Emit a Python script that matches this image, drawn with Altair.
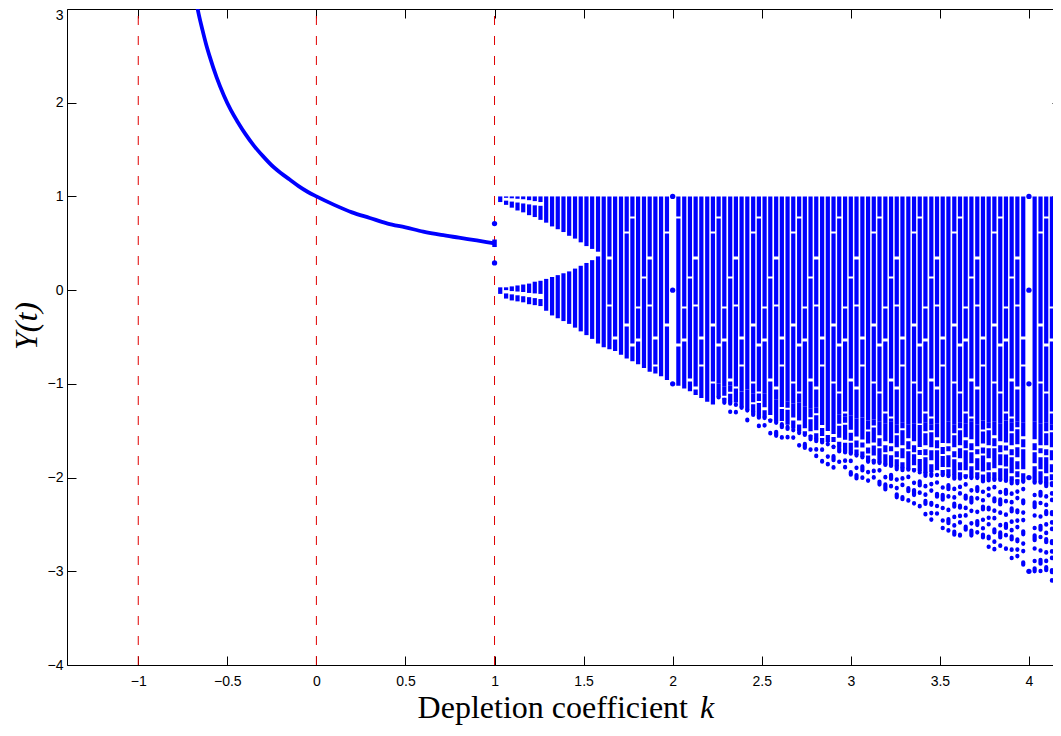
import altair as alt
import pandas as pd

BLUE = "#0000ff"
RED = "#e00000"

# ---------------- data ----------------
# smooth branch  Y(t) for k in (-0.68, 1]
CURVE_K = [-0.68, -0.66, -0.64, -0.62, -0.60, -0.56, -0.52, -0.48, -0.44, -0.40,
           -0.35, -0.30, -0.25, -0.20, -0.15, -0.10, -0.05, 0.00, 0.10, 0.20,
           0.30, 0.40, 0.50, 0.60, 0.70, 0.80, 0.90, 1.00]
CURVE_Y = [3.13, 2.94, 2.78, 2.63, 2.50, 2.27, 2.08, 1.92, 1.79, 1.67,
           1.54, 1.43, 1.33, 1.25, 1.18, 1.11, 1.05, 1.00, 0.91, 0.83,
           0.77, 0.71, 0.67, 0.625, 0.59, 0.56, 0.53, 0.50]

# columns of the chaotic region (k > 1): top is Y = 1
COL_K = [1.032, 1.065, 1.097, 1.129, 1.161, 1.194, 1.226, 1.258, 1.290, 1.323,
         1.355, 1.387, 1.419, 1.452, 1.484, 1.516, 1.548, 1.581, 1.613, 1.645,
         1.677, 1.710, 1.742, 1.774, 1.806, 1.839, 1.871, 1.903, 1.935, 1.968,
         2.032, 2.065, 2.097, 2.129, 2.161, 2.194, 2.226, 2.258, 2.290, 2.323,
         2.355, 2.387, 2.419, 2.452, 2.484, 2.516, 2.548, 2.581, 2.613, 2.645,
         2.677, 2.710, 2.742, 2.774, 2.806, 2.839, 2.871, 2.903, 2.935, 2.968,
         3.000, 3.032, 3.065, 3.097, 3.129, 3.161, 3.194, 3.226, 3.258, 3.290,
         3.323, 3.355, 3.387, 3.419, 3.452, 3.484, 3.516, 3.548, 3.581, 3.613,
         3.645, 3.677, 3.710, 3.742, 3.774, 3.806, 3.839, 3.871, 3.903, 3.935,
         3.968, 4.032, 4.065, 4.097, 4.129, 4.161, 4.194]
COL_TOP = 1.0
# lowest point of each column
COL_LOW = [-0.04, -0.09, -0.11, -0.12, -0.13, -0.15, -0.16, -0.17, -0.22, -0.27,
           -0.30, -0.33, -0.36, -0.40, -0.44, -0.48, -0.52, -0.57, -0.61, -0.63,
           -0.65, -0.69, -0.73, -0.76, -0.79, -0.83, -0.87, -0.89, -0.92, -0.96,
           -1.02, -1.05, -1.08, -1.12, -1.15, -1.19, -1.22, -1.24, -1.27, -1.30,
           -1.33, -1.36, -1.39, -1.42, -1.47, -1.50, -1.53, -1.56, -1.58, -1.62,
           -1.66, -1.70, -1.72, -1.75, -1.79, -1.83, -1.86, -1.90, -1.91, -1.94,
           -1.97, -2.01, -2.04, -2.07, -2.11, -2.14, -2.17, -2.20, -2.23, -2.26,
           -2.30, -2.33, -2.37, -2.42, -2.46, -2.50, -2.54, -2.58, -2.61, -2.62,
           -2.65, -2.68, -2.71, -2.74, -2.76, -2.79, -2.81, -2.84, -2.86, -2.89,
           -2.93, -3.00, -3.04, -3.08, -3.11, -3.15, -3.18]
# bottom of the almost solid part of each column
COL_SOLID = [-0.04, -0.09, -0.11, -0.12, -0.13, -0.15, -0.16, -0.17, -0.22, -0.27,
             -0.30, -0.33, -0.36, -0.40, -0.44, -0.48, -0.52, -0.57, -0.61, -0.63,
             -0.65, -0.69, -0.73, -0.76, -0.79, -0.83, -0.87, -0.89, -0.92, -0.96,
             -1.02, -1.05, -1.08, -1.12, -1.15, -1.19, -1.22, -1.00, -1.03, -1.02,
             -1.05, -1.08, -1.06, -1.10, -1.12, -1.10, -1.14, -1.17, -1.15, -1.19,
             -1.21, -1.20, -1.24, -1.26, -1.25, -1.29, -1.31, -1.30, -1.33, -1.35,
             -1.34, -1.37, -1.36, -1.39, -1.38, -1.40, -1.42, -1.40, -1.43, -1.41,
             -1.43, -1.42, -1.44, -1.41, -1.43, -1.42, -1.44, -1.40, -1.43, -1.41,
             -1.42, -1.40, -1.43, -1.39, -1.41, -1.40, -1.42, -1.39, -1.41, -1.40,
             -1.41, -1.40, -1.42, -1.41, -1.43, -1.42, -1.44]
# bottom of the dense (speckled) part; below it only scattered points
COL_DENSE = [-0.04, -0.09, -0.11, -0.12, -0.13, -0.15, -0.16, -0.17, -0.22, -0.27,
             -0.30, -0.33, -0.36, -0.40, -0.44, -0.48, -0.52, -0.57, -0.61, -0.63,
             -0.65, -0.69, -0.73, -0.76, -0.79, -0.83, -0.87, -0.89, -0.92, -0.96,
             -1.02, -1.05, -1.08, -1.12, -1.15, -1.19, -1.22, -1.14, -1.17, -1.19,
             -1.22, -1.25, -1.28, -1.30, -1.34, -1.36, -1.39, -1.41, -1.43, -1.46,
             -1.49, -1.52, -1.54, -1.56, -1.59, -1.62, -1.64, -1.67, -1.69, -1.71,
             -1.74, -1.76, -1.78, -1.80, -1.82, -1.84, -1.86, -1.87, -1.88, -1.90,
             -1.91, -1.92, -1.94, -1.95, -1.96, -1.97, -1.97, -1.98, -1.98, -1.99,
             -1.99, -2.00, -2.00, -2.01, -2.01, -2.02, -2.02, -2.03, -2.03, -2.04,
             -2.04, -2.05, -2.05, -2.06, -2.06, -2.07, -2.07]

# two-band region just after k = 1 (white wedge in the middle)
FORK_K = [1.032, 1.065, 1.097, 1.129, 1.161, 1.194, 1.226, 1.258, 1.290,
          1.323, 1.355, 1.387, 1.419, 1.452, 1.484, 1.516, 1.548, 1.581]
FORK_UPPER_LOW = [0.94, 0.91, 0.88, 0.85, 0.83, 0.80, 0.78, 0.75, 0.72,
                  0.68, 0.65, 0.62, 0.58, 0.55, 0.51, 0.47, 0.44, 0.41]
FORK_LOWER_TOP = [0.03, 0.03, 0.04, 0.05, 0.06, 0.07, 0.09, 0.10, 0.12,
                  0.14, 0.16, 0.18, 0.20, 0.23, 0.26, 0.29, 0.32, 0.36]
# small white wedges inside each band
GAP_K = [1.065, 1.097, 1.129, 1.161, 1.194, 1.226, 1.258]
GAP_UP_HI = [0.985, 0.98, 0.975, 0.97, 0.96, 0.95, 0.94]
GAP_UP_LO = [0.955, 0.945, 0.935, 0.925, 0.915, 0.905, 0.90]
GAP_DN_HI = [0.0, -0.01, -0.015, -0.02, -0.03, -0.035, -0.04]
GAP_DN_LO = [-0.035, -0.045, -0.055, -0.065, -0.075, -0.085, -0.095]

# periodic points (isolated dots)
PER_K = [1.0, 1.0, 2.0, 2.0, 2.0, 4.0, 4.0, 4.0, 4.0, 4.0]
PER_Y = [0.71, 0.29, 1.0, 0.0, -1.0, 1.0, 0.0, -1.0, -2.0, -3.0]
K1_SEG_K = [1.0]
K1_SEG_Y = [0.54]
K1_SEG_Y2 = [0.46]

RED_K = [-1.0, 0.0, 1.0]

X_DOMAIN = [-1.4, 4.18]
Y_DOMAIN = [-4, 3]
X_TICKS = [-1, -0.5, 0, 0.5, 1, 1.5, 2, 2.5, 3, 3.5, 4]
Y_TICKS = [-4, -3, -2, -1, 0, 1, 2, 3]

X_TITLE = ["Depletion coefficient", "k"]
Y_TITLE = ["Y(t)"]

# texture (speckle) patterns for the three density levels -- styling only
SOLID_PATTERNS = [[2000, 1],
                  [60, 3, 45, 2, 80, 3, 50, 2],
                  [110, 2, 30, 3, 70, 2, 40, 3],
                  [35, 2, 90, 3, 55, 2, 65, 2],
                  [140, 3, 25, 2, 60, 2],
                  [80, 2, 100, 3, 35, 2],
                  [20, 2, 125, 3, 45, 2, 30, 3]]
SEMI_PATTERNS = [[14, 3, 8, 2, 20, 4], [9, 2, 12, 4, 6, 2, 16, 3],
                 [18, 4, 7, 2, 11, 3], [6, 2, 15, 3, 10, 4, 8, 2],
                 [22, 3, 5, 4, 12, 2]]
SPARSE_PATTERNS = [[0.5, 7, 0.5, 11, 3, 9], [0.5, 9, 4, 7, 0.5, 13],
                   [2, 8, 0.5, 6, 0.5, 12], [0.5, 12, 0.5, 7, 5, 8],
                   [3, 10, 0.5, 8, 0.5, 6]]

PAT_NAMES = (["p%d" % j for j in range(len(SOLID_PATTERNS))]
             + ["s%d" % j for j in range(len(SEMI_PATTERNS))]
             + ["d%d" % j for j in range(len(SPARSE_PATTERNS))])
PAT_ARRAYS = SOLID_PATTERNS + SEMI_PATTERNS + SPARSE_PATTERNS

# ---------------- build tables ----------------
fork = dict(zip(FORK_K, zip(FORK_UPPER_LOW, FORK_LOWER_TOP)))
gaps = {k: v for k, *v in zip(GAP_K, GAP_UP_HI, GAP_UP_LO, GAP_DN_HI, GAP_DN_LO)}
solid_rows, semi_rows, sparse_rows = [], [], []
for i, (k, low, solid, dense) in enumerate(zip(COL_K, COL_LOW, COL_SOLID, COL_DENSE)):
    p1 = "p%d" % ((i * 3) % len(SOLID_PATTERNS)) if k > 1.62 else "p0"
    if k in fork:
        ub, lt = fork[k]
        if k in gaps:
            g1h, g1l, g2h, g2l = gaps[k]
            pieces = [(COL_TOP, g1h), (g1l, ub), (lt, g2h), (g2l, solid)]
        else:
            pieces = [(COL_TOP, ub), (lt, solid)]
    else:
        pieces = [(COL_TOP, solid)]
    for a, b in pieces:
        solid_rows.append({"k": k, "y": a, "y2": b, "pat": p1})
    if dense < solid:
        semi_rows.append({"k": k, "y": solid, "y2": dense,
                          "pat": "s%d" % ((i * 2) % len(SEMI_PATTERNS))})
    if low < dense:
        sparse_rows.append({"k": k, "y": dense, "y2": low,
                            "pat": "d%d" % ((i * 3) % len(SPARSE_PATTERNS))})

solid_df = pd.DataFrame(solid_rows)
semi_df = pd.DataFrame(semi_rows)
sparse_df = pd.DataFrame(sparse_rows)
curve_df = pd.DataFrame({"k": CURVE_K, "y": CURVE_Y})
per_df = pd.DataFrame({"k": PER_K, "y": PER_Y})
k1_df = pd.DataFrame({"k": K1_SEG_K, "y": K1_SEG_Y, "y2": K1_SEG_Y2})
red_df = pd.DataFrame({"k": RED_K, "y": [Y_DOMAIN[0]] * len(RED_K),
                       "y2": [Y_DOMAIN[1]] * len(RED_K)})

# ---------------- scales and axes ----------------
W, H = 994, 656
xs = alt.Scale(domain=X_DOMAIN, nice=False, zero=False)
ys = alt.Scale(domain=Y_DOMAIN, nice=False, zero=False)

common = dict(domain=False, grid=False, title=None, tickSize=9, offset=-9,
              tickColor="black", tickWidth=1)
ax_bottom = alt.Axis(orient="bottom", values=X_TICKS, format="~g", labelPadding=9,
                     labelFont="Liberation Sans", labelFontSize=14, labelColor="black",
                     labelFlush=False, labelOverlap=False, **common)
ax_left = alt.Axis(orient="left", values=Y_TICKS, format="~g", labelPadding=4,
                   labelFont="Liberation Sans", labelFontSize=14, labelColor="black",
                   labelFlush=False, labelOverlap=False,
                   labelOffset={"condition": {"test": "datum.value == 3", "value": 6}, "value": 0},
                   **common)
ax_top = alt.Axis(orient="top", values=X_TICKS, labels=False, **common)
ax_right = alt.Axis(orient="right", values=Y_TICKS, labels=False, **common)

X = alt.X("k:Q", scale=xs, axis=ax_bottom)
Y = alt.Y("y:Q", scale=ys, axis=ax_left)
DASH = alt.StrokeDash("pat:N", scale=alt.Scale(domain=PAT_NAMES, range=PAT_ARRAYS),
                      legend=None)

solid = alt.Chart(solid_df).mark_rule(color=BLUE, strokeWidth=4.2, strokeCap="butt").encode(
    x=X, y=Y, y2="y2:Q", strokeDash=DASH)
semi = alt.Chart(semi_df).mark_rule(color=BLUE, strokeWidth=4.2, strokeCap="butt").encode(
    x=X, y=Y, y2="y2:Q", strokeDash=DASH)
sparse = alt.Chart(sparse_df).mark_rule(color=BLUE, strokeWidth=4.2, strokeCap="round").encode(
    x=X, y=Y, y2="y2:Q", strokeDash=DASH)
curve = alt.Chart(curve_df).mark_line(color=BLUE, strokeWidth=3.8, clip=True,
                                      interpolate="monotone").encode(x=X, y=Y)
k1seg = alt.Chart(k1_df).mark_rule(color=BLUE, strokeWidth=4.5).encode(x=X, y=Y, y2="y2:Q")
pts = alt.Chart(per_df).mark_circle(color=BLUE, size=28, opacity=1).encode(x=X, y=Y)

t1 = alt.Chart(pd.DataFrame({"t": [X_TITLE[0]]})).mark_text(
    font="Liberation Serif", fontSize=32, align="right", baseline="alphabetic", color="black"
).encode(text="t:N", x=alt.value(621), y=alt.value(709))
t2 = alt.Chart(pd.DataFrame({"t": [X_TITLE[1]]})).mark_text(
    font="Liberation Serif", fontSize=32, fontStyle="italic", align="left",
    baseline="alphabetic", color="black"
).encode(text="t:N", x=alt.value(633), y=alt.value(709))
t3 = alt.Chart(pd.DataFrame({"t": Y_TITLE})).mark_text(
    font="Liberation Serif", fontSize=32, fontStyle="italic", align="center",
    baseline="middle", angle=270, color="black"
).encode(text="t:N", x=alt.value(-40), y=alt.value(317))

main = alt.layer(solid, semi, sparse, curve, k1seg, pts, t1, t2, t3)

red = alt.Chart(red_df).mark_rule(color=RED, strokeWidth=1, strokeDash=[9, 11]).encode(
    x=alt.X("k:Q", scale=xs, axis=ax_top),
    y=alt.Y("y:Q", scale=ys, axis=ax_right),
    y2="y2:Q")

chart = alt.layer(red, main).resolve_scale(x="independent", y="independent").properties(
    width=W, height=H,
    padding={"left": 59, "top": 1, "right": -8, "bottom": 62},
    autosize=alt.AutoSizeParams(type="none"),
    background="white",
).configure_view(stroke="black", strokeWidth=1)

chart.save("out.html", embed_options={"renderer": "svg", "actions": False})
